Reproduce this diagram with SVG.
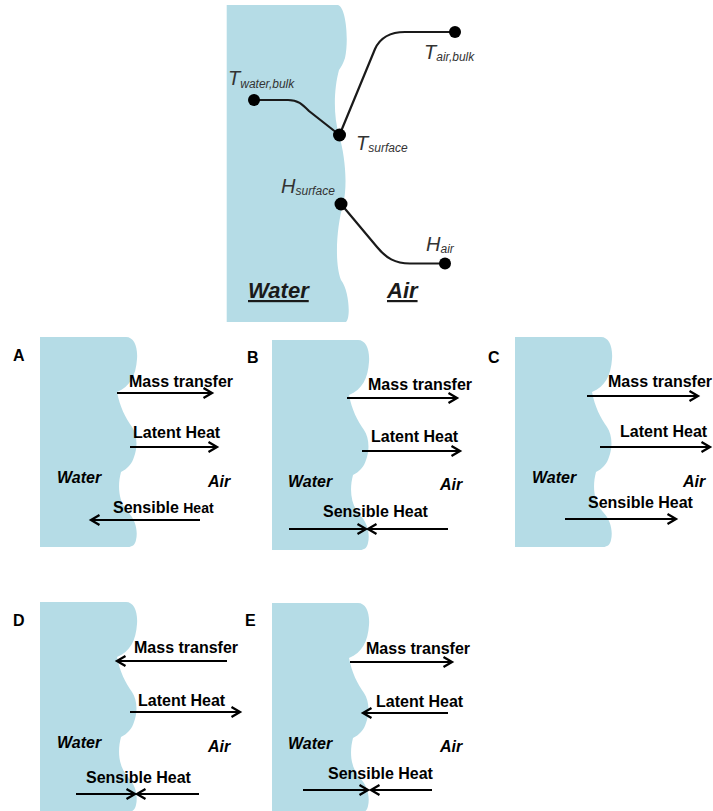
<svg xmlns="http://www.w3.org/2000/svg" xmlns:xlink="http://www.w3.org/1999/xlink" width="713" height="811" viewBox="0 0 713 811">
<style>
.water{fill:#b5dce6;stroke:none}
.t{font-family:"Liberation Sans",Arial,sans-serif;font-weight:bold;font-size:16px;fill:#000}
.it{font-family:"Liberation Sans",Arial,sans-serif;font-weight:bold;font-style:italic;font-size:16px;fill:#000}
.lbl{font-family:"Liberation Sans",Arial,sans-serif;font-style:italic;font-size:20px;fill:#333}
.sub{font-size:12px}
.big{font-family:"Liberation Sans",Arial,sans-serif;font-weight:bold;font-style:italic;font-size:22px;fill:#1a1a1a;text-decoration:underline}
.arr{stroke:#000;stroke-width:2;fill:none;marker-end:url(#head)}
.curve{stroke:#1a1a1a;stroke-width:2.2;fill:none}
.dot{fill:#000}
</style>
<defs>
<marker id="head" markerUnits="userSpaceOnUse" markerWidth="14" markerHeight="14" refX="10.5" refY="6" orient="auto" viewBox="0 0 14 12">
<path d="M2,1 L10.5,6 L2,11" fill="none" stroke="#000" stroke-width="2.3"/>
</marker>
<path id="wave" d="M0,0 H86 C94,0 98,10 97,22 C96,38 90,50 77,55 C80,70 85,80 92,90 C97,97 98,110 94,120 C92,127 87,132 81,135 C77,150 79,165 88,175 C96,183 98,195 96,203 C95,208 92,210 88,210 H0 Z"/>
</defs>
<rect width="713" height="811" fill="#fff"/>

<g id="top-panel">
<path class="water" d="M226.7,5 H338 C346,7 349,40 345,58 C343,64 341,67 339,70 C334,88 333,115 339,135 C345,155 348,185 343,205 C337,225 334,262 341,280 C349,290 351,318 346,322 H226.7 Z"/>
<text class="big" x="248" y="298">Water</text>
<text class="big" x="387" y="298">Air</text>
</g>

<g id="connectors">
<path class="curve" d="M254,100 H288 C298,100 302,104 309,111 L339.5,135"/>
<path class="curve" d="M339.5,135 L375,49 C380,38 390,32 405,32 H455"/>
<path class="curve" d="M341,204 L377,247 C386,258 395,263.5 410,263.5 H445"/>
</g>

<g id="node-t-water-bulk"><circle class="dot" cx="254" cy="100" r="6"/><text class="lbl" x="228" y="85">T<tspan class="sub" dy="3">water,bulk</tspan></text></g>
<g id="node-t-surface"><circle class="dot" cx="339.5" cy="135" r="6.5"/><text class="lbl" x="356" y="150">T<tspan class="sub" dy="2">surface</tspan></text></g>
<g id="node-t-air-bulk"><circle class="dot" cx="455" cy="32" r="6"/><text class="lbl" x="424" y="59">T<tspan class="sub" dy="2">air,bulk</tspan></text></g>
<g id="node-h-surface"><circle class="dot" cx="341" cy="204" r="6.5"/><text class="lbl" x="281" y="193">H<tspan class="sub" dy="2">surface</tspan></text></g>
<g id="node-h-air"><circle class="dot" cx="445" cy="263.5" r="6"/><text class="lbl" x="426" y="251">H<tspan class="sub" dy="2">air</tspan></text></g>

<g id="panel-a">
<use href="#wave" xlink:href="#wave" class="water" x="40" y="337"/>
<text class="t" x="13" y="361">A</text>
<text class="t" x="129" y="387">Mass transfer</text>
<text class="t" x="133" y="438">Latent Heat</text>
<text class="it" x="57" y="483">Water</text>
<text class="it" x="208" y="487">Air</text>
<text class="t" x="113" y="513">Sensible <tspan font-size="14">Heat</tspan></text>
<g id="arrows-a">
<line class="arr" x1="117" y1="393" x2="212" y2="393"/>
<line class="arr" x1="130" y1="447" x2="217" y2="447"/>
<line class="arr" x1="200" y1="520" x2="91" y2="520"/>
</g>
</g>

<g id="panel-b">
<use href="#wave" xlink:href="#wave" class="water" x="272" y="340"/>
<text class="t" x="247" y="363">B</text>
<text class="t" x="368" y="390">Mass transfer</text>
<text class="t" x="371" y="442">Latent Heat</text>
<text class="it" x="288" y="487">Water</text>
<text class="it" x="440" y="490">Air</text>
<text class="t" x="323" y="517">Sensible Heat</text>
<g id="arrows-b">
<line class="arr" x1="347" y1="398" x2="457" y2="398"/>
<line class="arr" x1="362" y1="451" x2="460" y2="451"/>
<line class="arr" x1="289" y1="529" x2="366" y2="529"/>
<line class="arr" x1="448" y1="529" x2="368" y2="529"/>
</g>
</g>

<g id="panel-c">
<use href="#wave" xlink:href="#wave" class="water" x="515" y="337"/>
<text class="t" x="488" y="363">C</text>
<text class="t" x="608" y="387">Mass transfer</text>
<text class="t" x="620" y="437">Latent Heat</text>
<text class="it" x="532" y="483">Water</text>
<text class="it" x="683" y="487">Air</text>
<text class="t" x="588" y="508">Sensible Heat</text>
<g id="arrows-c">
<line class="arr" x1="587" y1="396" x2="698" y2="396"/>
<line class="arr" x1="600" y1="447" x2="710" y2="447"/>
<line class="arr" x1="565" y1="519" x2="676" y2="519"/>
</g>
</g>

<g id="panel-d">
<use href="#wave" xlink:href="#wave" class="water" x="40" y="602"/>
<text class="t" x="13" y="626">D</text>
<text class="t" x="134" y="653">Mass transfer</text>
<text class="t" x="138" y="706">Latent Heat</text>
<text class="it" x="57" y="748">Water</text>
<text class="it" x="208" y="752">Air</text>
<text class="t" x="86" y="783">Sensible Heat</text>
<g id="arrows-d">
<line class="arr" x1="227" y1="661" x2="117" y2="661"/>
<line class="arr" x1="130" y1="712" x2="240" y2="712"/>
<line class="arr" x1="76" y1="794" x2="135" y2="794"/>
<line class="arr" x1="199" y1="794" x2="137" y2="794"/>
</g>
</g>

<g id="panel-e">
<use href="#wave" xlink:href="#wave" class="water" x="272" y="603"/>
<text class="t" x="245" y="626">E</text>
<text class="t" x="366" y="654">Mass transfer</text>
<text class="t" x="376" y="707">Latent Heat</text>
<text class="it" x="288" y="749">Water</text>
<text class="it" x="440" y="752">Air</text>
<text class="t" x="328" y="779">Sensible Heat</text>
<g id="arrows-e">
<line class="arr" x1="350" y1="662" x2="452" y2="662"/>
<line class="arr" x1="448" y1="713" x2="363" y2="713"/>
<line class="arr" x1="303" y1="790" x2="368" y2="790"/>
<line class="arr" x1="432" y1="790" x2="371" y2="790"/>
</g>
</g>
</svg>
